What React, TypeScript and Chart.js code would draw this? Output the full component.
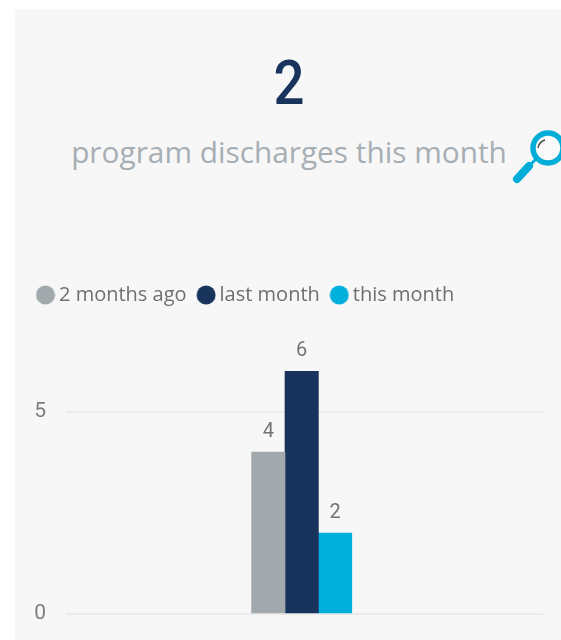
import React, { useEffect, useRef } from "react";
import { Chart, registerables } from "chart.js";

Chart.register(...registerables);

const seriesNames = ["2 months ago", "last month", "this month"];
const seriesValues = [4, 6, 2];
const seriesColors = ["#a2a9ad", "#19345c", "#00b0dc"];
const headline = "2";
const caption = "program discharges this month";

const numberFont = "Roboto, sans-serif";
const textFont = "'Open Sans', sans-serif";

const makeDot = (color: string) => {
  const c = document.createElement("canvas");
  c.width = 20;
  c.height = 20;
  const g = c.getContext("2d")!;
  g.fillStyle = color;
  g.beginPath();
  g.arc(10, 10, 9.5, 0, Math.PI * 2);
  g.fill();
  return c;
};

const valueLabels = {
  id: "valueLabels",
  afterDatasetsDraw(chart: any) {
    const { ctx } = chart;
    ctx.save();
    ctx.font = `20px ${numberFont}`;
    ctx.fillStyle = "#707376";
    ctx.textAlign = "center";
    ctx.textBaseline = "alphabetic";
    chart.data.datasets.forEach((ds: any, i: number) => {
      const el = chart.getDatasetMeta(i).data[0];
      ctx.fillText(String(ds.data[0].y), el.x, el.y - 15);
    });
    ctx.restore();
  },
};

export default function App() {
  const ref = useRef<HTMLCanvasElement>(null);
  useEffect(() => {
    document.body.style.margin = "0";
    document.body.style.overflow = "hidden";
    const dots = seriesColors.map(makeDot);
    const chart = new Chart(ref.current!, {
      type: "bar",
      data: {
        datasets: seriesNames.map((name, i) => ({
          label: name,
          data: [{ x: 0, y: seriesValues[i] }],
          backgroundColor: seriesColors[i],
          borderWidth: 0,
          barThickness: 33.4,
        })),
      },
      plugins: [valueLabels],
      options: {
        animation: false,
        responsive: false,
        layout: { padding: { left: 26, right: 18, top: 269, bottom: 26 } },
        plugins: {
          tooltip: { enabled: false },
          legend: {
            position: "top",
            align: "start",
            labels: {
              usePointStyle: true,
              pointStyleWidth: 7,
              boxHeight: 13.4,
              padding: 16,
              color: "#6f6f6f",
              font: { family: "'Open Sans', sans-serif", size: 20 },
              generateLabels: (c: any) =>
                Chart.defaults.plugins.legend.labels
                  .generateLabels(c)
                  .map((l: any, i: number) => ({ ...l, pointStyle: dots[i] })),
            },
          },
        },
        scales: {
          x: { type: "linear", display: false, min: -235.7, max: 241.3, offset: false },
          y: {
            min: 0,
            max: 7.39,
            afterFit: (s: any) => {
              s.width = 40;
              s.paddingTop = 0;
              s.paddingBottom = 0;
            },
            border: { display: false },
            grid: { color: "#ebebeb", lineWidth: 2, drawTicks: false },
            ticks: {
              stepSize: 5,
              includeBounds: false,
              padding: 20,
              color: "#7c7f82",
              font: { family: numberFont, size: 21 },
            },
          },
        },
      } as any,
    });
    return () => chart.destroy();
  }, []);

  return (
    <div style={{ position: "relative", width: 561, height: 640, overflow: "hidden", background: "#fff" }}>
      <div style={{ position: "absolute", left: 15, top: 9, width: 560, height: 640, background: "#f7f7f7", borderRadius: 4 }} />
      <div style={{ position: "absolute", left: 189, width: 200, top: 46, textAlign: "center", font: `500 62px/73px ${numberFont}`, color: "#19345c", transform: "scaleX(0.88)" }}>{headline}</div>
      <div style={{ position: "absolute", left: 0, width: 578, top: 130, textAlign: "center", font: `400 29.8px/44px ${textFont}`, color: "#a6aeb3", whiteSpace: "nowrap" }}>{caption}</div>
      <svg style={{ position: "absolute", left: 500, top: 120, overflow: "visible" }} width="70" height="70">
        <circle cx="48" cy="28" r="15" fill="#fafafa" stroke="#00add8" strokeWidth="5.5" />
        <path d="M36 39 L29 46" stroke="#00add8" strokeWidth="3" />
        <path d="M29 46 L17 59" stroke="#00add8" strokeWidth="8" strokeLinecap="round" />
        <path d="M38 28 A10 10 0 0 1 45 20" stroke="#444" strokeWidth="1.4" fill="none" />
      </svg>
      <canvas ref={ref} width={561} height={640} style={{ position: "absolute", left: 0, top: 0, display: "block" }} />
    </div>
  );
}
